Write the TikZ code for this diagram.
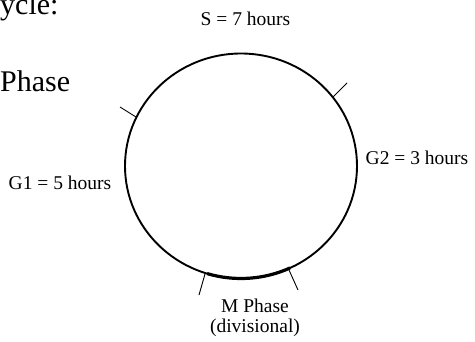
\documentclass[tikz,border=0pt]{standalone}
\usepackage{fontspec}
\setmainfont{Liberation Serif}
\begin{document}
\begin{tikzpicture}[x=1pt,y=1pt,
  small/.style={inner sep=0pt,anchor=base,font=\fontsize{19.5}{23}\selectfont},
  big/.style={inner sep=0pt,anchor=base west,font=\fontsize{30}{36}\selectfont},
  tick/.style={line width=0.9pt},
  cyc/.style={line width=1.9pt}]
\useasboundingbox (0,0) rectangle (475,341);
\coordinate (c) at (241,175);
\draw[cyc] (c) ellipse [x radius=116, y radius=112.5];
\draw[line width=3.2pt] ([shift={(-107:116 and 112.5)}]c) arc[start angle=-107,end angle=-65,x radius=116,y radius=112.5];
% ticks
\coordinate (t1a) at (136,224); \coordinate (t1b) at (120,234);
\coordinate (t2a) at (333,244); \coordinate (t2b) at (347,258);
\coordinate (t3a) at (205,67);  \coordinate (t3b) at (199,46);
\coordinate (t4a) at (289,71);  \coordinate (t4b) at (298,51);
\draw[tick] (t1a) -- (t1b);
\draw[tick] (t2a) -- (t2b);
\draw[tick] (t3a) -- (t3b);
\draw[tick] (t4a) -- (t4b);
% texts
\node[big] (cy) at (0,326) {ycle:};
\node[big] (ph) at (0,249) {Phase};
\node[small] (s) at (245.5,315) {S = 7 hours};
\node[small] (g1) at (60,152) {G1 = 5 hours};
\node[small] (g2) at (417,176) {G2 = 3 hours};
\node[small] (m1) at (255,29) {M Phase};
\node[small] (m2) at (255,9) {(divisional)};
\end{tikzpicture}
\end{document}
